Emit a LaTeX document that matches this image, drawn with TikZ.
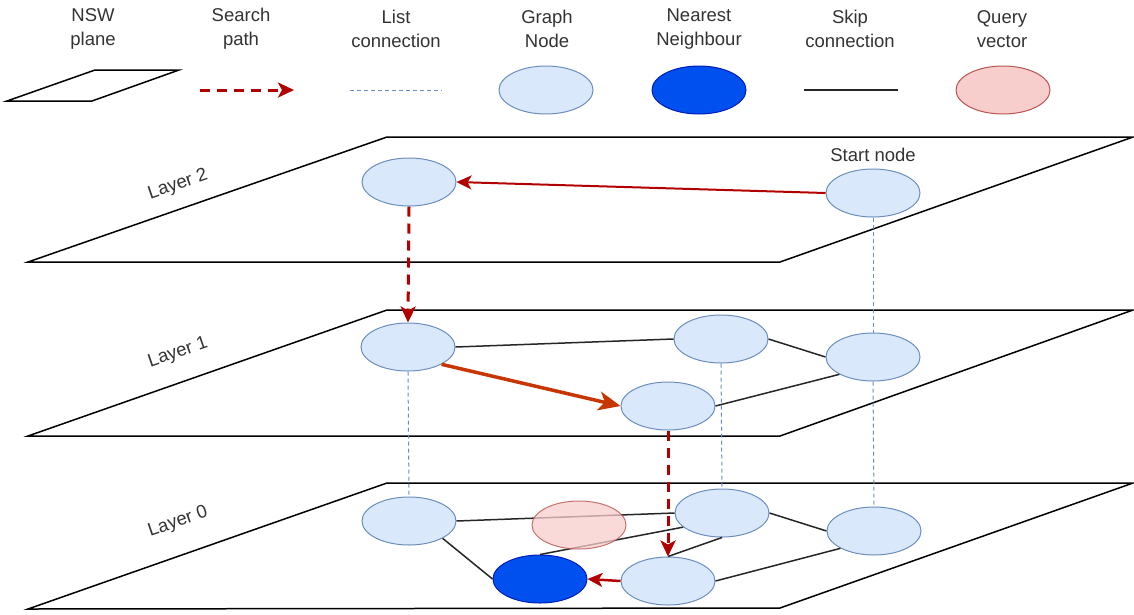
\documentclass[tikz,border=0pt]{standalone}
\usepackage{fontspec}
\setmainfont{Liberation Sans}
\usetikzlibrary{shapes.geometric, arrows.meta}
\definecolor{nodefill}{HTML}{DAE8FC}
\definecolor{nodeline}{HTML}{6C8EBF}
\definecolor{nnfill}{HTML}{0050EF}
\definecolor{nnline}{HTML}{001DBC}
\definecolor{queryfill}{HTML}{F8CECC}
\definecolor{queryline}{HTML}{B85450}
\definecolor{searchred}{HTML}{B20000}
\definecolor{hoporange}{HTML}{C73500}
\definecolor{labelgray}{HTML}{333333}
\tikzset{
    gnode/.style={
        ellipse,
        draw=nodeline,
        fill=nodefill,
        line width=1pt,
        minimum width=94pt,
        minimum height=48pt,
        inner sep=0pt
    },
    nearest/.style={gnode, draw=nnline, fill=nnfill},
    query/.style={gnode, draw=queryline, fill=queryfill},
    plane/.style={draw=black, line width=1.5pt, line join=miter},
    skip/.style={draw=black!85, line width=1.5pt},
    listline/.style={draw=nodeline, line width=1pt, dash pattern=on 4pt off 3pt},
    search/.style={
        draw=searchred,
        line width=3pt,
        dash pattern=on 10pt off 7pt,
        -{Stealth[length=16pt, width=15pt, inset=4pt]}
    },
    hop/.style={
        draw=searchred,
        line width=2pt,
        -{Stealth[length=15pt, width=14pt, inset=4pt]}
    },
    legend text/.style={align=center, inner sep=0pt},
    layer label/.style={rotate=19, inner sep=0pt}
}

\begin{document}
\begin{tikzpicture}[x=1pt, y=-1pt, font=\fontsize{18.5}{24}\selectfont, text=labelgray]
    \useasboundingbox (0,0) rectangle (1134,614);

    % Legend
    \node (keyPlaneText) [legend text] at (93,29) {NSW\\plane};
    \node (keySearchText) [legend text] at (241,29) {Search\\path};
    \node (keyListText) [legend text] at (396,29) {List\\connection};
    \node (keyNodeText) [legend text] at (547,29) {Graph\\Node};
    \node (keyNearestText) [legend text] at (699,29) {Nearest\\Neighbour};
    \node (keySkipText) [legend text] at (850,29) {Skip\\connection};
    \node (keyQueryText) [legend text] at (1002,29) {Query\\vector};

    \draw [plane] (7,101) -- (95,70) -- (179,70) -- (92,101) -- cycle;
    \coordinate (searchFrom) at (200,90);
    \coordinate (searchTo) at (294,90);
    \draw [search] (searchFrom) -- (searchTo);
    \coordinate (listFrom) at (350,90);
    \coordinate (listTo) at (442,90);
    \draw [listline] (listFrom) -- (listTo);
    \node (keyNode) [gnode] at (546,90) {};
    \node (keyNearest) [nearest] at (699,90) {};
    \coordinate (skipFrom) at (804,90);
    \coordinate (skipTo) at (898,90);
    \draw [skip] (skipFrom) -- (skipTo);
    \node (keyQuery) [query] at (1003,90) {};

    % Planes
    \draw [plane] (28,262) -- (387,137) -- (1133,137) -- (780,262) -- cycle;
    \draw [plane] (28,436) -- (387,310) -- (1133,310) -- (780,436) -- cycle;
    \draw [plane] (28,609) -- (387,483) -- (1133,483) -- (780,608) -- cycle;
    \node (layerTwo) [layer label] at (178,185) {Layer 2};
    \node (layerOne) [layer label] at (178,353) {Layer 1};
    \node (layerZero) [layer label] at (178,522) {Layer 0};

    % Layer 2
    \node (twoA) [gnode] at (409,182) {};
    \node (start) [gnode] at (873,193) {};
    \node (startText) [inner sep=0pt] at (873,155) {Start node};

    % Layer 1
    \node (oneA) [gnode] at (408,347) {};
    \node (oneB) [gnode] at (721,339) {};
    \node (oneC) [gnode] at (873,357) {};
    \node (oneD) [gnode] at (668,406) {};

    % Layer 0
    \node (zeroA) [gnode] at (409,521) {};
    \node (zeroB) [gnode] at (722,513) {};
    \node (zeroC) [gnode] at (874,531) {};
    \node (zeroD) [gnode] at (668,581) {};
    \node (nn) [nearest] at (540,579) {};

    % Edges
    \path
        % List connections
        (start.south) edge [listline] (oneC.north)
        (oneA.south) edge [listline] (zeroA.north)
        (oneB.south) edge [listline] (zeroB.north)
        (oneC.south) edge [listline] (zeroC.north)

        % Skip connections, layer 1
        (oneA.east) edge [skip] (oneB.west)
        (oneB.east) edge [skip] (oneC.west)
        (oneD.east) edge [skip] (oneC.south west)

        % Skip connections, layer 0
        (zeroA.east) edge [skip] (zeroB.west)
        (zeroA.south east) edge [skip] (nn.west)
        (nn.north) edge [skip] (zeroB.200)
        (zeroB.south) edge [skip] (zeroD.north)
        (zeroB.east) edge [skip] (zeroC.west)
        (zeroD.east) edge [skip] (zeroC.south west)

        % Search path
        (start.west) edge [hop] (twoA.east)
        (twoA.south) edge [search] (oneA.north)
        (oneA.south east) edge [draw=hoporange, line width=3.5pt,
            -{Stealth[length=22pt, width=19pt, inset=6pt]}] (oneD.west)
        (oneD.south) edge [search] (zeroD.north)
        (zeroD.west) edge [hop, line width=2.5pt] (nn.east)
    ;

    % Query vector
    \node (queryVec) [query, fill opacity=0.75, draw opacity=0.8] at (579,525) {};
\end{tikzpicture}
\end{document}
